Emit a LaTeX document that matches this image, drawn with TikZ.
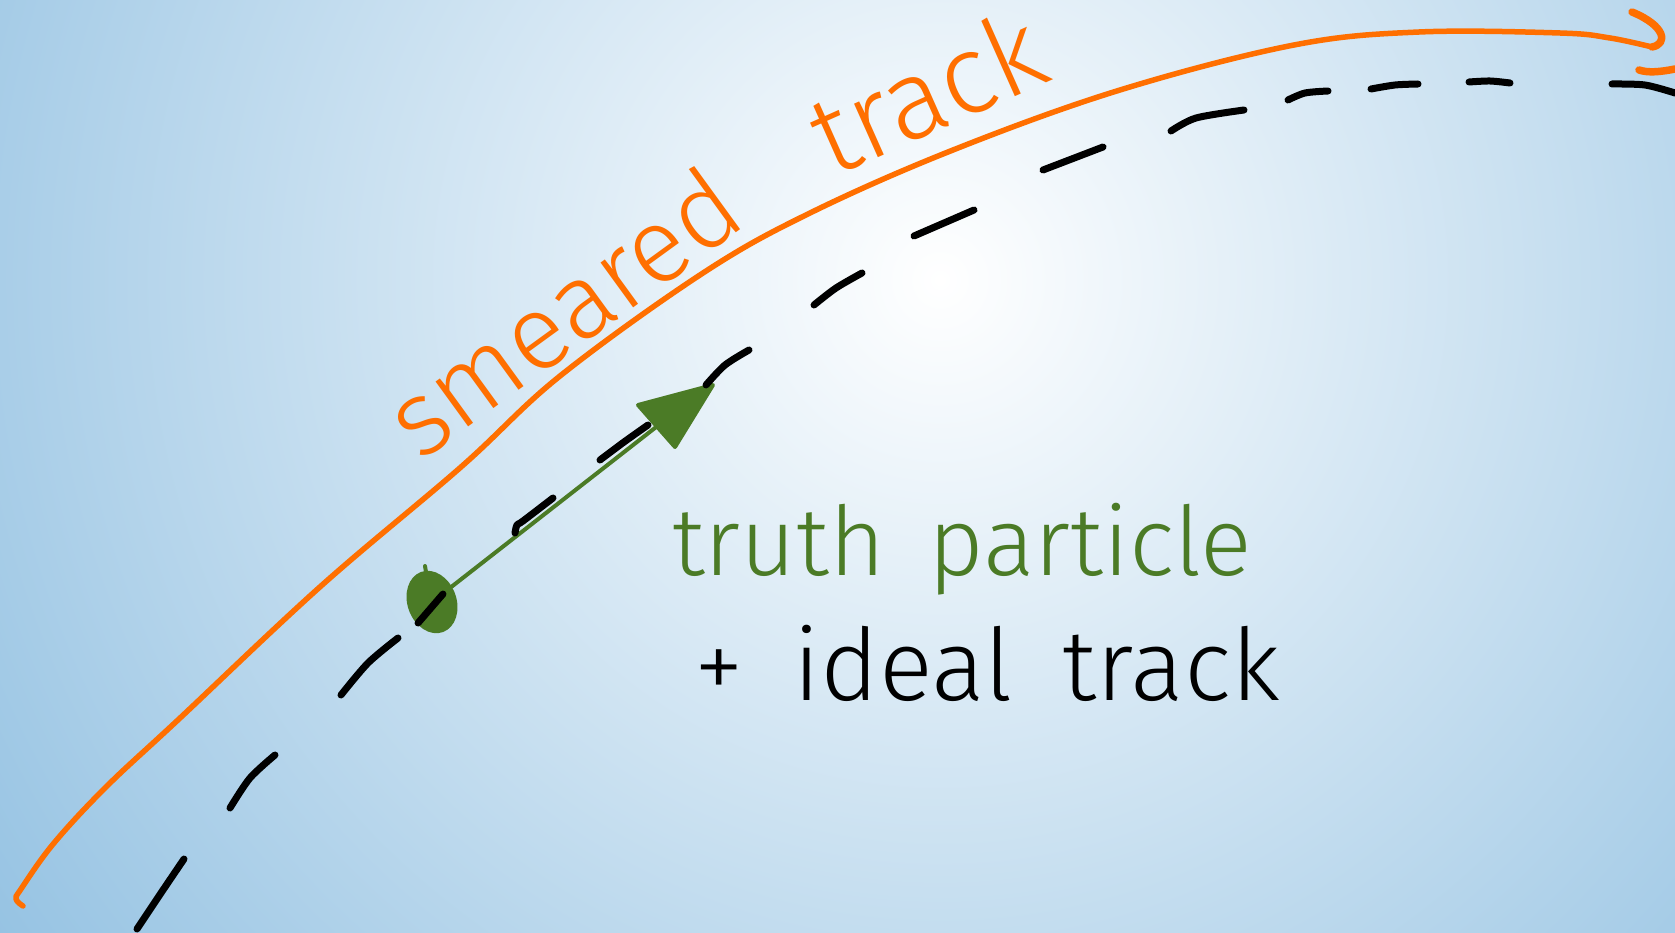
\documentclass[tikz,border=0pt]{standalone}
\usepackage{fontspec}
\setmainfont{Fira Sans}[UprightFont={* Light}]
\usetikzlibrary{shapes.geometric}
\definecolor{trackorange}{HTML}{FF6F00}
\definecolor{truthgreen}{HTML}{4B7B26}
\definecolor{bgblue}{HTML}{88BBDF}
\begin{document}
\begin{tikzpicture}[x=1pt,y=-1pt,
  orangepen/.style={draw=trackorange, line width=5.5pt, line cap=round, line join=round},
  inkdash/.style={draw=black, line width=7pt, line cap=round, line join=round},
  greenpen/.style={draw=truthgreen, line width=4pt, line cap=round, line join=round},
  lbl/.style={anchor=base west, inner sep=0pt}]
\path[use as bounding box] (0,0) rectangle (1675,933);
\begin{scope}
  \clip (0,0) rectangle (1675,933);
  \shade[inner color=white, outer color=bgblue] (940,280) circle (1300);
\end{scope}
% smeared track (orange)
\draw[orangepen] plot[smooth, tension=0.6] coordinates {
  (23,906) (16,899) (21,889) (54,843) (107,786) (179,719) (321,586)
  (461,467) (560,376) (703,273) (810,213) (953,150) (1120,90) (1294,45)
  (1419,32) (1560,33) (1610,38) (1652,47)};
\coordinate (oend) at (1652,47);
\coordinate (oup) at (1632,12);
\draw[orangepen, line width=7.5pt] (oend) .. controls (1668,44) and (1666,26) .. (oup);
\coordinate (olow1) at (1639,70);
\coordinate (olow2) at (1675,69);
\draw[orangepen, line width=7.5pt] (olow1) .. controls (1648,73) and (1660,72) .. (olow2);
% truth particle (green)
\node[ellipse, fill=truthgreen, minimum width=49pt, minimum height=64pt, inner sep=0pt, rotate=20] (dot) at (432,602) {};
\coordinate (tick1) at (425,566);
\coordinate (tick2) at (427,578);
\draw[greenpen] (tick1) -- (tick2);
\coordinate (hA) at (638,405);
\coordinate (hTip) at (713,385);
\coordinate (hB) at (675,447);
\coordinate (hBase) at (660,424);
\draw[greenpen] (dot) -- (hBase);
\filldraw[greenpen, fill=truthgreen] (hA) -- (hTip) -- (hB) -- cycle;
% ideal track (black dashes)
\draw[inkdash] plot[smooth] coordinates {(137,929) (161,893) (184,859)};
\draw[inkdash] plot[smooth] coordinates {(230,808) (250,778) (275,755)};
\draw[inkdash] plot[smooth] coordinates {(341,695) (368,663) (398,638)};
\draw[inkdash] (418,623) -- (443,594);
\draw[inkdash] plot[smooth] coordinates {(515,533) (517,525) (523,521) (553,498)};
\draw[inkdash] plot[smooth] coordinates {(600,460) (624,442) (648,425)};
\draw[inkdash] plot[smooth] coordinates {(706,385) (725,365) (749,350)};
\draw[inkdash] plot[smooth] coordinates {(814,305) (836,288) (862,273)};
\draw[inkdash] (914,236) -- (974,210);
\draw[inkdash] (1043,170) -- (1103,147);
\draw[inkdash] plot[smooth] coordinates {(1171,131) (1196,118) (1244,110)};
\draw[inkdash] plot[smooth] coordinates {(1288,100) (1305,93) (1328,91)};
\draw[inkdash] plot[smooth] coordinates {(1371,89) (1395,85) (1418,84)};
\draw[inkdash] plot[smooth] coordinates {(1469,82) (1490,81) (1510,83)};
\draw[inkdash] plot[smooth] coordinates {(1612,84) (1645,85) (1675,93)};
% labels
\node[lbl, text=trackorange, rotate=36, font=\fontsize{106}{106}\selectfont] (smeared) at (420,463) {smeared};
\node[lbl, text=trackorange, rotate=24, font=\fontsize{112}{112}\selectfont] (track) at (832,178) {track};
\node[lbl, text=truthgreen, font=\fontsize{96}{96}\selectfont] (truth) at (672,575) {\spaceskip=0.45em\relax truth particle};
\node[lbl, text=black, font=\fontsize{100}{100}\selectfont] (ideal) at (694,700) {\spaceskip=0.5em\relax + ideal track};
\end{tikzpicture}
\end{document}
